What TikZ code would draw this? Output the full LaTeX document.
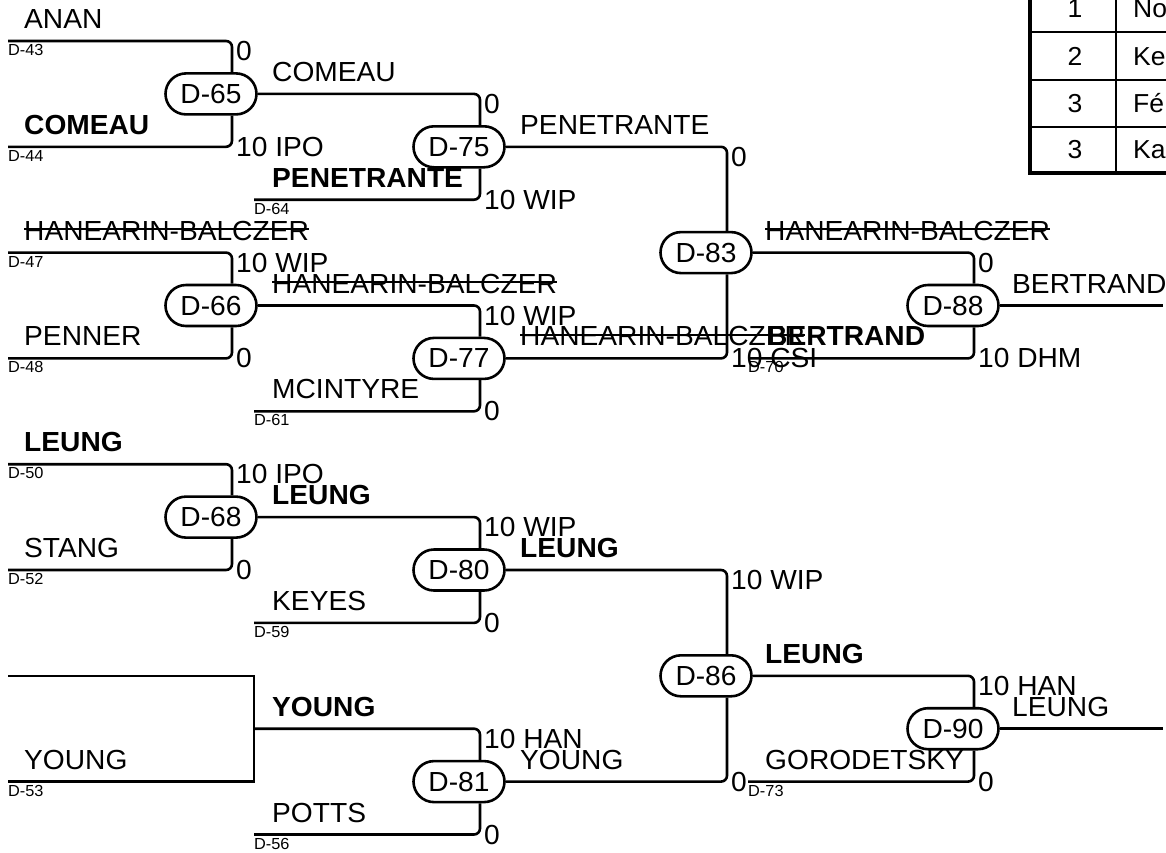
\documentclass[tikz,border=0pt]{standalone}
\usepackage{fontspec}
\setmainfont{Liberation Sans}[FakeStretch=1.02]
\usetikzlibrary{shapes.misc}
\newcommand{\fbig}{\fontsize{27.6}{32}\selectfont}
\newcommand{\fsml}{\fontsize{16}{19}\selectfont}
\newcommand{\ftab}{\fontsize{26}{30}\selectfont}
\newcommand{\strk}[1]{{\setbox0\hbox{#1}\rlap{\rule[10.4pt]{\wd0}{2pt}}\box0}}
\tikzset{
  match/.style={rounded rectangle, draw, line width=2.6pt, minimum width=91pt, minimum height=41pt, inner sep=0pt, font=\fbig, fill=white},
  wire/.style={line width=2.6pt, rounded corners=6pt},
  nm/.style={anchor=base west, inner sep=0pt, font=\fbig},
  nmb/.style={anchor=base west, inner sep=0pt, font=\fbig\bfseries},
  src/.style={anchor=base west, inner sep=0pt, font=\fsml},
  sc/.style={anchor=base west, inner sep=0pt, font=\fbig},
  tabn/.style={anchor=base, inner sep=0pt, font=\ftab},
  tabt/.style={anchor=base west, inner sep=0pt, font=\ftab},
}
\begin{document}
\begin{tikzpicture}[x=1pt,y=1pt]
\useasboundingbox (0,0) rectangle (1166,-852);
% ---- table (top right)
\draw[line width=4pt] (1030,20) rectangle (1220,-173);
\draw[line width=2pt] (1030,-32) -- (1220,-32);
\draw[line width=2pt] (1030,-80) -- (1220,-80);
\draw[line width=2pt] (1030,-127) -- (1220,-127);
\draw[line width=2pt] (1116,20) -- (1116,-173);
\node[tabn] (r1n) at (1075,-17) {1};
\node[tabn] (r2n) at (1075,-65) {2};
\node[tabn] (r3n) at (1075,-112) {3};
\node[tabn] (r4n) at (1075,-158) {3};
\node[tabt] (r1t) at (1133,-17) {No};
\node[tabt] (r2t) at (1133,-65) {Ke};
\node[tabt] (r3t) at (1133,-112) {Fé};
\node[tabt] (r4t) at (1133,-158) {Ka};
% ---- match nodes
\node[match] (d65) at (211,-93.9) {D-65};
\node[match] (d66) at (211,-305.5) {D-66};
\node[match] (d68) at (211,-517.1) {D-68};
\node[match] (d75) at (459,-146.8) {D-75};
\node[match] (d77) at (459,-358.4) {D-77};
\node[match] (d80) at (459,-570) {D-80};
\node[match] (d81) at (459,-781.6) {D-81};
\node[match] (d83) at (706,-252.6) {D-83};
\node[match] (d86) at (706,-675.8) {D-86};
\node[match] (d88) at (953,-305.5) {D-88};
\node[match] (d90) at (953,-728.7) {D-90};
% ---- line start coordinates
\coordinate (s43) at (8,-41);
\coordinate (s44) at (8,-146.8);
\coordinate (s47) at (8,-252.6);
\coordinate (s48) at (8,-358.4);
\coordinate (s50) at (8,-464.2);
\coordinate (s52) at (8,-570);
\coordinate (sy) at (8,-675.8);
\coordinate (s53) at (8,-781.6);
\coordinate (yj) at (254,-728.7);
\coordinate (s64) at (254,-199.7);
\coordinate (s61) at (254,-411.3);
\coordinate (s59) at (254,-622.9);
\coordinate (s56) at (254,-834.5);
\coordinate (s70) at (748,-358.4);
\coordinate (s73) at (748,-781.6);
\coordinate (e88) at (1163,-305.5);
\coordinate (e90) at (1163,-728.7);
% ---- wires
\draw[wire] (s43) -| ([xshift=21pt]d65.north);
\draw[wire] (s44) -| ([xshift=21pt]d65.south);
\draw[wire] (s47) -| ([xshift=21pt]d66.north);
\draw[wire] (s48) -| ([xshift=21pt]d66.south);
\draw[wire] (s50) -| ([xshift=21pt]d68.north);
\draw[wire] (s52) -| ([xshift=21pt]d68.south);
\draw[line width=2.6pt] (sy) -| (yj) |- (s53);
\draw[wire] (d65.east) -| ([xshift=21pt]d75.north);
\draw[wire] (s64) -| ([xshift=21pt]d75.south);
\draw[wire] (d66.east) -| ([xshift=21pt]d77.north);
\draw[wire] (s61) -| ([xshift=21pt]d77.south);
\draw[wire] (d68.east) -| ([xshift=21pt]d80.north);
\draw[wire] (s59) -| ([xshift=21pt]d80.south);
\draw[wire] (yj) -| ([xshift=21pt]d81.north);
\draw[wire] (s56) -| ([xshift=21pt]d81.south);
\draw[wire] (d75.east) -| ([xshift=21pt]d83.north);
\draw[wire] (d77.east) -| ([xshift=21pt]d83.south);
\draw[wire] (d80.east) -| ([xshift=21pt]d86.north);
\draw[wire] (d81.east) -| ([xshift=21pt]d86.south);
\draw[wire] (d83.east) -| ([xshift=21pt]d88.north);
\draw[wire] (s70) -| ([xshift=21pt]d88.south);
\draw[wire] (d86.east) -| ([xshift=21pt]d90.north);
\draw[wire] (s73) -| ([xshift=21pt]d90.south);
\draw[wire] (d88.east) -- (e88);
\draw[wire] (d90.east) -- (e90);
% ---- column 1 names
\node[nm] (n1) at (24,-28.5) {ANAN};
\node[nmb] (n2) at (24,-134.3) {COMEAU};
\node[nm] (n3) at (24,-240.1) {\strk{HANEARIN-BALCZER}};
\node[nm] (n4) at (24,-345.9) {PENNER};
\node[nmb] (n5) at (24,-451.7) {LEUNG};
\node[nm] (n6) at (24,-557.5) {STANG};
\node[nm] (n7) at (24,-769.1) {YOUNG};
\node[src] (c43) at (8,-55.5) {D-43};
\node[src] (c44) at (8,-161.3) {D-44};
\node[src] (c47) at (8,-267.1) {D-47};
\node[src] (c48) at (8,-372.9) {D-48};
\node[src] (c50) at (8,-478.7) {D-50};
\node[src] (c52) at (8,-584.5) {D-52};
\node[src] (c53) at (8,-796.1) {D-53};
% ---- column 1 scores
\node[sc] (p1) at (236,-60.5) {0};
\node[sc] (p2) at (236,-156.3) {10 IPO};
\node[sc] (p3) at (236,-272.1) {10 WIP};
\node[sc] (p4) at (236,-367.9) {0};
\node[sc] (p5) at (236,-483.7) {10 IPO};
\node[sc] (p6) at (236,-579.5) {0};
% ---- column 2 names
\node[nm] (m1) at (272,-81.4) {COMEAU};
\node[nmb] (m2) at (272,-187.2) {PENETRANTE};
\node[nm] (m3) at (272,-293) {\strk{HANEARIN-BALCZER}};
\node[nm] (m4) at (272,-398.8) {MCINTYRE};
\node[nmb] (m5) at (272,-504.6) {LEUNG};
\node[nm] (m6) at (272,-610.4) {KEYES};
\node[nmb] (m7) at (272,-716.2) {YOUNG};
\node[nm] (m8) at (272,-822) {POTTS};
\node[src] (c64) at (254,-214.2) {D-64};
\node[src] (c61) at (254,-425.8) {D-61};
\node[src] (c59) at (254,-637.4) {D-59};
\node[src] (c56) at (254,-849) {D-56};
% ---- column 2 scores
\node[sc] (q1) at (484,-113.4) {0};
\node[sc] (q2) at (484,-209.2) {10 WIP};
\node[sc] (q3) at (484,-325) {10 WIP};
\node[sc] (q4) at (484,-420.8) {0};
\node[sc] (q5) at (484,-536.6) {10 WIP};
\node[sc] (q6) at (484,-632.4) {0};
\node[sc] (q7) at (484,-748.2) {10 HAN};
\node[sc] (q8) at (484,-844) {0};
% ---- column 3 names
\node[nm] (k1) at (520,-134.3) {PENETRANTE};
\node[nm] (k2) at (520,-345.9) {\strk{HANEARIN-BALCZER}};
\node[nmb] (k3) at (520,-557.5) {LEUNG};
\node[nm] (k4) at (520,-769.1) {YOUNG};
% ---- column 3 scores
\node[sc] (t1) at (731,-166.3) {0};
\node[sc] (t2) at (731,-367.9) {10 CSI};
\node[sc] (t3) at (731,-589.5) {10 WIP};
\node[sc] (t4) at (731,-791.1) {0};
% ---- column 4 names
\node[nm] (j1) at (765,-240.1) {\strk{HANEARIN-BALCZER}};
\node[nmb] (j2) at (767,-345.9) {BERTRAND};
\node[nmb] (j3) at (765,-663.3) {LEUNG};
\node[nm] (j4) at (765,-769.1) {GORODETSKY};
\node[src] (c70) at (748,-372.9) {D-70};
\node[src] (c73) at (748,-796.1) {D-73};
% ---- column 4 scores
\node[sc] (u1) at (978,-272.1) {0};
\node[sc] (u2) at (978,-367.9) {10 DHM};
\node[sc] (u3) at (978,-695.3) {10 HAN};
\node[sc] (u4) at (978,-791.1) {0};
% ---- column 5 names
\node[nm] (w1) at (1012,-293) {BERTRAND};
\node[nm] (w2) at (1012,-716.2) {LEUNG};
\end{tikzpicture}
\end{document}
